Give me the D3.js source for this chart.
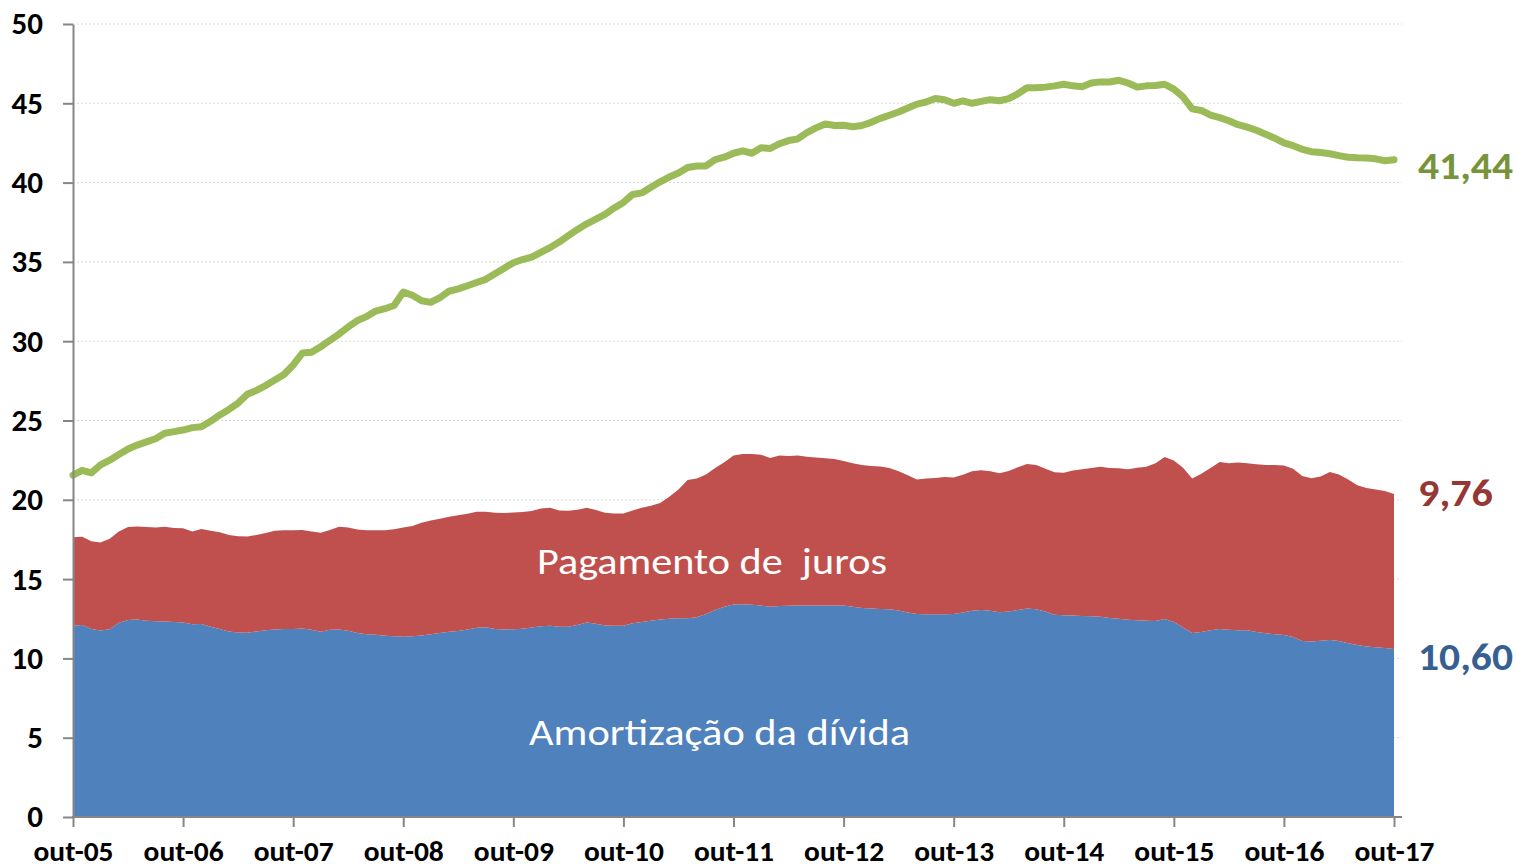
<!DOCTYPE html>
<html>
<head>
<meta charset="utf-8">
<script src="https://cdn.jsdelivr.net/npm/d3@7"></script>
<style>
  body { margin: 0; background: #fff; }
  svg { display: block; }
</style>
</head>
<body>
<svg width="1517" height="868"></svg>
<script>
// dados mensais de out-05 a out-17 (145 meses)
const xTickLabels = ['out-05', 'out-06', 'out-07', 'out-08', 'out-09', 'out-10', 'out-11',
    'out-12', 'out-13', 'out-14', 'out-15', 'out-16', 'out-17'];
const yTicks = [0, 5, 10, 15, 20, 25, 30, 35, 40, 45, 50];

// Amortização da dívida (azul)
const amortizacao = [
    12.06, 12.10, 11.85, 11.76, 11.84, 12.25, 12.42, 12.46, 12.38, 12.34, 12.32, 12.30,
    12.27, 12.16, 12.17, 12.00, 11.85, 11.70, 11.64, 11.62, 11.70, 11.77, 11.83, 11.85,
    11.86, 11.88, 11.80, 11.68, 11.80, 11.83, 11.75, 11.60, 11.53, 11.49, 11.43, 11.40,
    11.37, 11.40, 11.45, 11.52, 11.60, 11.68, 11.72, 11.83, 11.94, 11.96, 11.85, 11.83,
    11.84, 11.87, 11.95, 12.03, 12.06, 11.99, 12.00, 12.10, 12.27, 12.18, 12.07, 12.06,
    12.06, 12.22, 12.30, 12.37, 12.45, 12.50, 12.53, 12.53, 12.60, 12.80, 13.05, 13.25,
    13.40, 13.41, 13.38, 13.33, 13.26, 13.30, 13.32, 13.33, 13.33, 13.33, 13.33, 13.33,
    13.33, 13.25, 13.18, 13.14, 13.12, 13.10, 13.02, 12.90, 12.80, 12.79, 12.78, 12.78,
    12.80, 12.90, 13.00, 13.05, 13.00, 12.91, 12.95, 13.05, 13.14, 13.10, 12.95, 12.76,
    12.72, 12.70, 12.68, 12.66, 12.63, 12.55, 12.50, 12.43, 12.40, 12.38, 12.36, 12.48,
    12.30, 11.95, 11.60, 11.66, 11.78, 11.86, 11.80, 11.78, 11.77, 11.66, 11.58, 11.52,
    11.48, 11.35, 11.10, 11.06, 11.11, 11.16, 11.10, 10.95, 10.84, 10.75, 10.70, 10.65,
    10.60
];

// Pagamento de juros (vermelho)
const juros = [
    5.58, 5.57, 5.53, 5.54, 5.71, 5.75, 5.86, 5.85, 5.90, 5.92, 5.98, 5.92,
    5.93, 5.84, 5.99, 6.05, 6.11, 6.08, 6.06, 6.06, 6.08, 6.13, 6.22, 6.23,
    6.22, 6.22, 6.20, 6.25, 6.30, 6.47, 6.51, 6.52, 6.55, 6.59, 6.65, 6.74,
    6.88, 6.95, 7.10, 7.18, 7.20, 7.25, 7.30, 7.29, 7.30, 7.28, 7.33, 7.33,
    7.36, 7.36, 7.35, 7.42, 7.44, 7.34, 7.31, 7.28, 7.23, 7.18, 7.11, 7.08,
    7.07, 7.11, 7.20, 7.25, 7.35, 7.70, 8.12, 8.72, 8.75, 8.80, 8.95, 9.11,
    9.40, 9.48, 9.50, 9.51, 9.37, 9.50, 9.44, 9.47, 9.39, 9.33, 9.29, 9.25,
    9.12, 9.05, 9.02, 8.99, 8.98, 8.90, 8.78, 8.65, 8.48, 8.55, 8.60, 8.65,
    8.60, 8.68, 8.80, 8.82, 8.80, 8.77, 8.87, 9.00, 9.11, 9.10, 9.00, 8.97,
    8.99, 9.14, 9.24, 9.34, 9.46, 9.45, 9.49, 9.50, 9.62, 9.70, 9.94, 10.22,
    10.18, 10.07, 9.75, 9.99, 10.22, 10.52, 10.50, 10.57, 10.53, 10.58, 10.62, 10.67,
    10.69, 10.60, 10.40, 10.30, 10.36, 10.59, 10.50, 10.33, 10.08, 10.00, 9.95, 9.91,
    9.76
];

// linha verde
const linhaVerde = [
    21.56, 21.85, 21.70, 22.20, 22.50, 22.85, 23.20, 23.45, 23.65, 23.85, 24.20, 24.30,
    24.40, 24.55, 24.60, 24.95, 25.35, 25.70, 26.10, 26.65, 26.90, 27.20, 27.55, 27.90,
    28.50, 29.25, 29.30, 29.65, 30.05, 30.45, 30.90, 31.30, 31.55, 31.90, 32.05, 32.25,
    33.10, 32.90, 32.55, 32.45, 32.75, 33.15, 33.30, 33.50, 33.70, 33.90, 34.25, 34.60,
    34.95, 35.15, 35.30, 35.60, 35.90, 36.25, 36.65, 37.05, 37.40, 37.70, 38.00, 38.40,
    38.75, 39.25, 39.35, 39.70, 40.05, 40.35, 40.60, 40.95, 41.05, 41.05, 41.45, 41.60,
    41.85, 42.00, 41.85, 42.20, 42.15, 42.45, 42.65, 42.75, 43.15, 43.45, 43.70, 43.60,
    43.62, 43.52, 43.60, 43.80, 44.05, 44.25, 44.45, 44.70, 44.95, 45.08, 45.30, 45.22,
    45.00, 45.15, 45.00, 45.12, 45.23, 45.16, 45.30, 45.60, 45.98, 45.98, 46.02, 46.10,
    46.20, 46.10, 46.05, 46.28, 46.35, 46.34, 46.45, 46.28, 46.02, 46.10, 46.12, 46.20,
    45.90, 45.40, 44.65, 44.55, 44.25, 44.10, 43.90, 43.65, 43.50, 43.30, 43.05, 42.80,
    42.50, 42.33, 42.10, 41.95, 41.90, 41.82, 41.70, 41.60, 41.56, 41.55, 41.50, 41.38,
    41.44
];

const rotulosFinais = ['41,44', '9,76', '10,60'];

const svg = d3.select('svg');
const margin = { left: 73, top: 24 };
const plotRight = 1402;
const plotBottom = 817;

const x = d3.scaleLinear().domain([0, amortizacao.length - 1]).range([73, 1394]);
const y = d3.scaleLinear().domain([0, 50]).range([plotBottom, margin.top]);

const rows = amortizacao.map((v, i) => ({ i: i, amortizacao: v, juros: juros[i], verde: linhaVerde[i] }));

// grade
svg.append('g')
    .selectAll('line')
    .data(yTicks.filter(d => d > 0))
    .enter()
    .append('line')
    .attr('x1', margin.left)
    .attr('x2', plotRight)
    .attr('y1', d => y(d))
    .attr('y2', d => y(d))
    .attr('stroke', '#d9d9d9')
    .attr('stroke-width', 1)
    .attr('stroke-dasharray', '2,2');

// áreas empilhadas
const stack = d3.stack().keys(['amortizacao', 'juros']);
const series = stack(rows);
const cores = ['#4f81bd', '#c0504d'];

const area = d3.area()
    .x(d => x(d.data.i))
    .y0(d => y(d[0]))
    .y1(d => y(d[1]));

svg.append('g')
    .selectAll('path')
    .data(series)
    .enter()
    .append('path')
    .attr('fill', (d, k) => cores[k])
    .attr('d', area);

// linha verde
const linha = d3.line()
    .x(d => x(d.i))
    .y(d => y(d.verde));

svg.append('path')
    .datum(rows)
    .attr('fill', 'none')
    .attr('stroke', '#9bbb59')
    .attr('stroke-width', 7)
    .attr('stroke-linejoin', 'round')
    .attr('stroke-linecap', 'round')
    .attr('d', linha);

// eixo y
const yAxis = svg.append('g')
    .attr('transform', `translate(${margin.left},0)`)
    .call(d3.axisLeft(y).tickValues(yTicks).tickSize(10).tickPadding(20).tickSizeOuter(0));
yAxis.select('.domain').attr('stroke', '#868686').attr('stroke-width', 2);
yAxis.selectAll('.tick line').attr('stroke', '#868686').attr('stroke-width', 2);
yAxis.selectAll('.tick text')
    .attr('fill', '#000')
    .style('font-family', 'Carlito, "Liberation Sans Narrow", "Open Sans", sans-serif')
    .style('font-weight', 'bold')
    .style('font-size', '31px');

// eixo x
const xAxis = svg.append('g')
    .attr('transform', `translate(0,${plotBottom})`)
    .call(d3.axisBottom(x)
        .tickValues(xTickLabels.map((d, k) => k * 12))
        .tickFormat((d, k) => xTickLabels[k])
        .tickSize(10)
        .tickPadding(14)
        .tickSizeOuter(0));
xAxis.select('.domain').remove();
xAxis.append('line')
    .attr('x1', margin.left - 1)
    .attr('x2', plotRight)
    .attr('stroke', '#868686')
    .attr('stroke-width', 2);
xAxis.selectAll('.tick line').attr('stroke', '#868686').attr('stroke-width', 2);
xAxis.selectAll('.tick text')
    .attr('fill', '#000')
    .attr('textLength', 80)
    .attr('lengthAdjust', 'spacingAndGlyphs')
    .style('font-family', 'Carlito, "Liberation Sans Narrow", "Open Sans", sans-serif')
    .style('font-weight', 'bold')
    .style('font-size', '28px');

// rótulos das áreas
svg.append('text')
    .attr('x', 537)
    .attr('y', 574)
    .attr('fill', '#fff')
    .attr('textLength', 350)
    .attr('lengthAdjust', 'spacingAndGlyphs')
    .style('white-space', 'pre')
    .style('font-family', 'Carlito, "Open Sans", sans-serif')
    .style('font-size', '37px')
    .text('Pagamento de  juros');

svg.append('text')
    .attr('x', 529)
    .attr('y', 745)
    .attr('fill', '#fff')
    .attr('textLength', 381)
    .attr('lengthAdjust', 'spacingAndGlyphs')
    .style('font-family', 'Carlito, "Open Sans", sans-serif')
    .style('font-size', '37px')
    .text('Amortização da dívida');

// rótulos finais
const ultimo = rows[rows.length - 1];
const finais = [
    { texto: rotulosFinais[0], v: ultimo.verde, cor: '#77933c', dy: 19, w: 95 },
    { texto: rotulosFinais[1], v: ultimo.amortizacao + ultimo.juros, cor: '#953735', dy: 12, w: 75 },
    { texto: rotulosFinais[2], v: ultimo.amortizacao, cor: '#376092', dy: 21, w: 95 }
];
svg.append('g')
    .selectAll('text')
    .data(finais)
    .enter()
    .append('text')
    .attr('x', 1418)
    .attr('y', d => y(d.v) + d.dy)
    .attr('fill', d => d.cor)
    .attr('textLength', d => d.w)
    .attr('lengthAdjust', 'spacingAndGlyphs')
    .style('font-family', 'Carlito, "Open Sans", sans-serif')
    .style('font-weight', 'bold')
    .style('font-size', '38px')
    .text(d => d.texto);
</script>
</body>
</html>
